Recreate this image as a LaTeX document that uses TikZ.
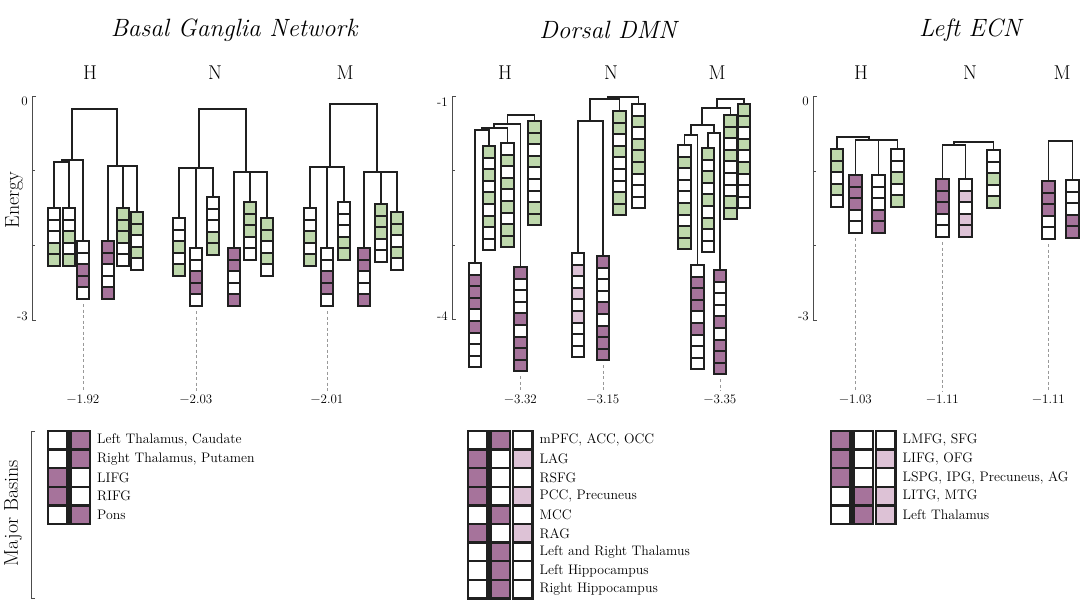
\documentclass[tikz,border=0pt]{standalone}
\usepackage{fontspec}
\usetikzlibrary{calc}

\definecolor{leafframe}{RGB}{32,32,32}
\definecolor{G}{RGB}{190,216,172}
\definecolor{P}{RGB}{166,115,155}
\definecolor{L}{RGB}{221,194,214}
\colorlet{W}{white}

% one column of a dendrogram: name, centre x, top y, cell colours
\newcommand{\leaf}[4]{%
  \coordinate (#1) at (#2,#3);
  \foreach \c [count=\i from 0] in {#4}{
    \draw[cell,fill=\c] ({#2-6.25},{#3+\i*11.6}) rectangle ++(12.5,11.6);
    \coordinate (#1b) at (#2,{#3+(\i+1)*11.6});
  }
}
% join two branches at height y, parent branch at x
\newcommand{\merge}[5]{%
  \draw[tree] (#1) |- (#2|-0,#3) -- (#2);
  \coordinate (#4) at (#5,#3);
}
% one row of the basin table
\newcommand{\basin}[5]{%
  \foreach \c [count=\i from 0] in {#4}{
    \draw[bigcell,fill=\c] ({#2+\i*22.5},{431+#3*18.6}) rectangle ++(19.5,18.6);
    \coordinate (#1c) at ({#2+(\i+1)*22.5},{431+(#3+0.5)*18.6});
  }
  \node[basintext] (#1) at (#1c) {#5};
}

\begin{document}
\begin{tikzpicture}[x=1pt, y=-1pt,
  cell/.style={draw=leafframe, line width=2pt},
  bigcell/.style={draw=leafframe, line width=2.4pt},
  tree/.style={draw=leafframe, line width=1.8pt},
  axisline/.style={draw=black!70, line width=0.8pt},
  guide/.style={draw=black!40, line width=0.7pt, dash pattern=on 3pt off 2.5pt},
  paneltitle/.style={font=\fontsize{25}{29}\selectfont\itshape},
  condlabel/.style={font=\fontsize{20}{24}\selectfont},
  sidelabel/.style={font=\fontsize{20}{24}\selectfont, rotate=90},
  ticklabel/.style={font=\fontsize{13}{15}\selectfont, anchor=east, inner sep=0pt},
  energyval/.style={font=\fontsize{13}{15}\selectfont},
  basintext/.style={font=\fontsize{13.8}{16}\selectfont, anchor=west, inner sep=0pt, xshift=4pt}]

\useasboundingbox (0,0) rectangle (1084,604);

% titles
\node[paneltitle] (tbg) at (234,30) {Basal Ganglia Network};
\node[paneltitle] (tdm) at (608,30) {Dorsal DMN};
\node[paneltitle] (tec) at (970,30) {Left ECN};

\node[condlabel] (bgH) at (90,73) {H};
\node[condlabel] (bgN) at (215,73) {N};
\node[condlabel] (bgM) at (345,73) {M};
\node[condlabel] (dmH) at (505,73) {H};
\node[condlabel] (dmN) at (611,73) {N};
\node[condlabel] (dmM) at (717,73) {M};
\node[condlabel] (ecH) at (861,73) {H};
\node[condlabel] (ecN) at (970,73) {N};
\node[condlabel] (ecM) at (1062,73) {M};

\node[sidelabel] (energy) at (14,200) {Energy};
\node[sidelabel] (basins) at (13,513) {Major Basins};

% energy axes
\draw[axisline] (36,96) -| (32,320) -- (36,320);
\draw[axisline] (32,170) -- (34.5,170) (32,245) -- (34.5,245);
\node[ticklabel] (bgtop) at (28,101) {0};
\node[ticklabel] (bgbot) at (28,316) {-3};

\draw[axisline] (456,96) -| (452,319) -- (456,319);
\draw[axisline] (452,170) -- (454.5,170) (452,245) -- (454.5,245);
\node[ticklabel] (dmtop) at (448,102) {-1};
\node[ticklabel] (dmbot) at (448,316) {-4};

\draw[axisline] (817,96) -| (813,320) -- (817,320);
\draw[axisline] (813,171) -- (815.5,171) (813,245) -- (815.5,245);
\node[ticklabel] (ectop) at (809,101) {0};
\node[ticklabel] (ecbot) at (809,316) {-3};

\draw[axisline] (35,431) -| (31,598) -- (35,598);

% basal ganglia, H
\leaf{bgh1}{54}{208}{W,W,W,G,G}
\leaf{bgh2}{69}{208}{W,W,G,W,G}
\leaf{bgh3}{83}{241}{W,W,P,P,W}
\leaf{bgh4}{108}{241}{P,P,W,W,P}
\leaf{bgh5}{123}{208}{G,G,G,W,W}
\leaf{bgh6}{137}{212}{G,G,W,G,W}
\merge{bgh1}{bgh2}{162}{bghA}{61.5}
\merge{bghA}{bgh3}{160}{bghB}{72}
\merge{bgh4}{bgh6}{166}{bghC}{117}
\draw[tree] (bgh5) -- (bgh5|-bghC);
\merge{bghB}{bghC}{109}{bghD}{94}

% basal ganglia, N
\leaf{bgn1}{179}{218}{W,W,G,W,G}
\leaf{bgn2}{196}{248}{W,W,P,P,W}
\leaf{bgn3}{213}{197}{W,W,W,G,G}
\leaf{bgn4}{234}{248}{P,P,W,W,P}
\leaf{bgn5}{250}{202}{G,G,G,W,W}
\leaf{bgn6}{267}{218}{G,G,W,G,W}
\merge{bgn1}{bgn3}{168}{bgnA}{199}
\draw[tree] (bgn2) -- (bgn2|-bgnA);
\merge{bgn4}{bgn6}{172}{bgnB}{246}
\draw[tree] (bgn5) -- (bgn5|-bgnB);
\merge{bgnA}{bgnB}{109}{bgnC}{222}

% basal ganglia, M
\leaf{bgm1}{310}{208}{W,W,G,W,G}
\leaf{bgm2}{327}{248}{W,W,P,P,W}
\leaf{bgm3}{344}{202}{W,W,W,G,G}
\leaf{bgm4}{364}{248}{P,P,W,W,P}
\leaf{bgm5}{381}{204}{G,G,G,W,W}
\leaf{bgm6}{397}{212}{G,G,W,G,W}
\merge{bgm1}{bgm3}{167}{bgmA}{330}
\draw[tree] (bgm2) -- (bgm2|-bgmA);
\merge{bgm4}{bgm6}{172}{bgmB}{377}
\draw[tree] (bgm5) -- (bgm5|-bgmB);
\merge{bgmA}{bgmB}{104}{bgmC}{353}

% dorsal DMN, H
\leaf{dmh1}{475}{263}{W,P,P,P,W,P,W,W,W}
\leaf{dmh2}{489}{146}{G,W,G,W,G,W,G,W,W}
\leaf{dmh3}{507.5}{143}{W,G,W,G,W,G,W,G,G}
\leaf{dmh4}{520.5}{267}{P,W,W,W,P,W,P,P,P}
\leaf{dmh5}{534.5}{121}{G,G,W,G,W,W,W,G,G}
\merge{dmh1}{dmh2}{130}{dmhA}{482}
\merge{dmhA}{dmh3}{128}{dmhB}{494}
\merge{dmhB}{dmh4}{124}{dmhC}{507.5}
\merge{dmhC}{dmh5}{115}{dmhD}{521}

% dorsal DMN, N
\leaf{dmn1}{578}{253}{W,L,W,L,W,L,W,W,W}
\leaf{dmn2}{603}{256}{P,W,W,W,P,W,P,P,P}
\leaf{dmn3}{619.5}{111}{G,G,W,G,W,W,W,G,G}
\leaf{dmn4}{638.5}{104}{W,G,W,G,G,G,W,W,W}
\merge{dmn1}{dmn2}{121}{dmnA}{590}
\merge{dmnA}{dmn3}{99}{dmnB}{608}
\merge{dmnB}{dmn4}{97}{dmnC}{623}

% dorsal DMN, M
\leaf{dmm1}{684.5}{145}{W,G,W,W,W,G,W,G,G}
\leaf{dmm2}{697.5}{265}{W,P,P,P,W,P,W,W,W}
\leaf{dmm3}{708}{148}{G,W,G,W,G,W,G,W,W}
\leaf{dmm4}{720}{270}{P,W,W,W,P,W,P,P,P}
\leaf{dmm5}{730.5}{115}{G,G,W,G,W,W,W,G,G}
\leaf{dmm6}{744}{104}{G,G,W,G,W,G,W,W,W}
\merge{dmm1}{dmm2}{135}{dmmA}{691}
\merge{dmm3}{dmm4}{133}{dmmB}{714}
\merge{dmmA}{dmmB}{125}{dmmC}{702}
\merge{dmmC}{dmm5}{108}{dmmD}{717}
\merge{dmmD}{dmm6}{99}{dmmE}{730}

% left ECN, H
\leaf{ech1}{837}{149}{G,G,W,G,W}
\leaf{ech2}{855.5}{175}{P,P,P,W,W}
\leaf{ech3}{878.5}{175}{W,W,W,P,P}
\leaf{ech4}{897.5}{149}{W,W,G,W,G}
\merge{ech2}{ech4}{140}{echA}{869}
\draw[tree] (ech3) -- (ech3|-echA);
\merge{ech1}{echA}{137}{echB}{853}

% left ECN, N
\leaf{ecn1}{942.5}{179}{P,P,P,W,W}
\leaf{ecn2}{965.5}{179}{W,L,W,L,L}
\leaf{ecn3}{993.5}{150}{W,W,G,W,G}
\merge{ecn1}{ecn2}{145}{ecnA}{954}
\merge{ecnA}{ecn3}{142}{ecnB}{974}

% left ECN, M
\leaf{ecm1}{1048.5}{181}{P,P,P,W,W}
\leaf{ecm2}{1072.5}{180}{W,W,W,P,P}
\merge{ecm1}{ecm2}{141}{ecmA}{1060}

% lowest basin energies
\node[energyval] (vbgh) at (83,399) {−1.92};
\node[energyval] (vbgn) at (196,399) {−2.03};
\node[energyval] (vbgm) at (327,399) {−2.01};
\node[energyval] (vdmh) at (520.5,399) {−3.32};
\node[energyval] (vdmn) at (603,399) {−3.15};
\node[energyval] (vdmm) at (720,399) {−3.35};
\node[energyval] (vech) at (855.5,399) {−1.03};
\node[energyval] (vecn) at (942.5,399) {−1.11};
\node[energyval] (vecm) at (1048.5,399) {−1.11};
\draw[guide] (bgh3b) ++(0,5) -- (vbgh.north);
\draw[guide] (bgn2b) ++(0,5) -- (vbgn.north);
\draw[guide] (bgm2b) ++(0,5) -- (vbgm.north);
\draw[guide] (dmh4b) ++(0,5) -- (vdmh.north);
\draw[guide] (dmn2b) ++(0,5) -- (vdmn.north);
\draw[guide] (dmm4b) ++(0,5) -- (vdmm.north);
\draw[guide] (ech2b) ++(0,5) -- (vech.north);
\draw[guide] (ecn1b) ++(0,5) -- (vecn.north);
\draw[guide] (ecm1b) ++(0,5) -- (vecm.north);

% major basins
\basin{bgb1}{48}{0}{W,P}{Left Thalamus, Caudate}
\basin{bgb2}{48}{1}{W,P}{Right Thalamus, Putamen}
\basin{bgb3}{48}{2}{P,W}{LIFG}
\basin{bgb4}{48}{3}{P,W}{RIFG}
\basin{bgb5}{48}{4}{W,P}{Pons}

\basin{dmb1}{468}{0}{W,P,W}{mPFC, ACC, OCC}
\basin{dmb2}{468}{1}{P,W,L}{LAG}
\basin{dmb3}{468}{2}{P,W,W}{RSFG}
\basin{dmb4}{468}{3}{P,W,L}{PCC, Precuneus}
\basin{dmb5}{468}{4}{W,P,W}{MCC}
\basin{dmb6}{468}{5}{P,W,L}{RAG}
\basin{dmb7}{468}{6}{W,P,W}{Left and Right Thalamus}
\basin{dmb8}{468}{7}{W,P,W}{Left Hippocampus}
\basin{dmb9}{468}{8}{W,P,W}{Right Hippocampus}

\basin{ecb1}{831}{0}{P,W,W}{LMFG, SFG}
\basin{ecb2}{831}{1}{P,W,L}{LIFG, OFG}
\basin{ecb3}{831}{2}{P,W,W}{LSPG, IPG, Precuneus, AG}
\basin{ecb4}{831}{3}{W,P,L}{LITG, MTG}
\basin{ecb5}{831}{4}{W,P,L}{Left Thalamus}

\end{tikzpicture}
\end{document}
